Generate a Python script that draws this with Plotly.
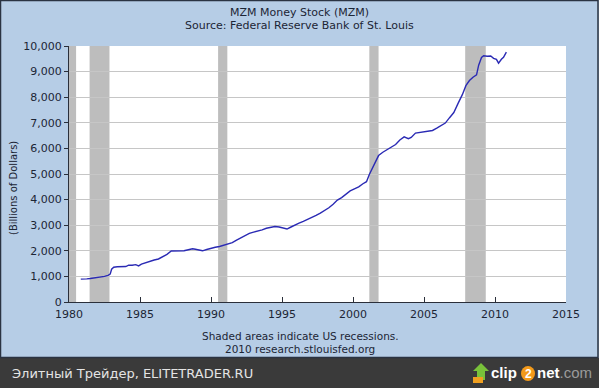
import plotly.graph_objects as go

# ---- data ----
years = [1980.83, 1981.0, 1981.25, 1981.5, 1981.75, 1982.0, 1982.25, 1982.5, 1982.75, 1982.9,
         1983.0, 1983.15, 1983.4, 1983.7, 1984.0, 1984.2, 1984.45, 1984.7, 1984.9, 1985.1,
         1985.4, 1985.7, 1986.0, 1986.3, 1986.6, 1986.9, 1987.2, 1987.5, 1987.8, 1988.1,
         1988.4, 1988.7, 1988.9, 1989.2, 1989.4, 1989.7, 1990.0, 1990.3, 1990.6, 1990.9,
         1991.2, 1991.5, 1991.8, 1992.1, 1992.4, 1992.7, 1993.0, 1993.3, 1993.6, 1993.9,
         1994.2, 1994.5, 1994.8, 1995.1, 1995.35, 1995.6, 1995.9, 1996.2, 1996.5, 1996.8,
         1997.1, 1997.4, 1997.7, 1998.0, 1998.3, 1998.6, 1998.9, 1999.2, 1999.5, 1999.8,
         2000.1, 2000.4, 2000.7, 2000.95, 2001.15, 2001.4, 2001.6, 2001.8, 2002.1, 2002.4,
         2002.7, 2003.0, 2003.3, 2003.6, 2003.9, 2004.1, 2004.4, 2004.7, 2005.0, 2005.3,
         2005.6, 2005.9, 2006.2, 2006.5, 2006.8, 2007.1, 2007.4, 2007.7, 2007.95, 2008.2,
         2008.45, 2008.7, 2008.85, 2009.05, 2009.2, 2009.45, 2009.7, 2009.9, 2010.1, 2010.25,
         2010.45, 2010.6, 2010.8]
mzm = [895, 890, 905, 920, 935, 955, 975, 1000, 1040, 1090,
       1280, 1360, 1375, 1370, 1385, 1440, 1435, 1460, 1410, 1480,
       1540, 1580, 1640, 1680, 1760, 1860, 1990, 2000, 2010, 2000,
       2040, 2080, 2060, 2040, 2000, 2050, 2110, 2140, 2170, 2210,
       2260, 2320, 2420, 2510, 2600, 2680, 2730, 2760, 2820, 2880,
       2920, 2950, 2930, 2900, 2850, 2920, 3010, 3080, 3150, 3220,
       3290, 3380, 3470, 3560, 3680, 3820, 3980, 4080, 4200, 4340,
       4420, 4500, 4620, 4700, 4980, 5250, 5520, 5720, 5850, 5950,
       6050, 6150, 6330, 6450, 6380, 6430, 6600, 6620, 6640, 6660,
       6700, 6790, 6880, 6990, 7200, 7400, 7760, 8100, 8450, 8650,
       8780, 8870, 9250, 9550, 9620, 9600, 9610, 9520, 9480, 9330,
       9480, 9560, 9760]

recession_start = [1980.0, 1981.45, 1990.5, 2001.15, 2007.9]
recession_end = [1980.5, 1982.85, 1991.15, 2001.8, 2009.35]

x_ticks = [1980, 1985, 1990, 1995, 2000, 2005, 2010, 2015]
y_ticks = [0, 1000, 2000, 3000, 4000, 5000, 6000, 7000, 8000, 9000, 10000]

title_1 = "MZM Money Stock (MZM)"
title_2 = "Source: Federal Reserve Bank of St. Louis"
y_title = "(Billions of Dollars)"
note_1 = "Shaded areas indicate US recessions."
note_2 = "2010 research.stlouisfed.org"
footer = "Элитный Трейдер, ELITETRADER.RU"

# ---- layout geometry (pixels) ----
W, H = 599, 388
L, R, T, B = 69, 33, 46, 86
PW, PH = W - L - R, H - T - B


def px(x):
    return (x - L) / PW


def py(y):
    return (H - B - y) / PH


FONT = "DejaVu Sans"
TXT = "#1c2535"
BLUE_BG = "#b6cde6"
LOGO_FONT = "Liberation Sans Narrow, Liberation Sans, Arial"

fig = go.Figure()
fig.add_trace(go.Scatter(x=years, y=mzm, mode="lines",
                         line=dict(color="#2a2ab4", width=1.4),
                         hoverinfo="skip", showlegend=False))

shapes = []
for s, e in zip(recession_start, recession_end):
    shapes.append(dict(type="rect", xref="x", yref="paper", x0=s, x1=e, y0=0, y1=1,
                       fillcolor="#bdbdbd", line=dict(width=0), layer="between"))
# dark footer band
shapes.append(dict(type="rect", xref="paper", yref="paper",
                   x0=px(-2), x1=px(W + 2), y0=py(H + 2), y1=py(358),
                   fillcolor="#3a3a3a", line=dict(width=0), layer="above"))
# panel border
shapes.append(dict(type="rect", xref="paper", yref="paper",
                   x0=px(0.5), x1=px(598), y0=py(357.5), y1=py(0.5),
                   fillcolor="rgba(0,0,0,0)", line=dict(color="#2a3342", width=1.5),
                   layer="above"))
# clip2net logo bits: arrow + orange base + orange circle
shapes.append(dict(type="path", xref="paper", yref="paper",
                   path=f"M {px(481)} {py(363)} L {px(489)} {py(371)} L {px(485)} {py(371)} "
                        f"L {px(485)} {py(380)} L {px(477)} {py(380)} L {px(477)} {py(371)} "
                        f"L {px(473)} {py(371)} Z",
                   fillcolor="#79c23a", line=dict(width=0), layer="above"))
shapes.append(dict(type="rect", xref="paper", yref="paper",
                   x0=px(473), x1=px(483), y0=py(383), y1=py(377),
                   fillcolor="#f0a020", line=dict(width=0), layer="above"))
shapes.append(dict(type="circle", xref="paper", yref="paper",
                   x0=px(521), x1=px(535), y0=py(381), y1=py(366),
                   fillcolor="#f39a1a", line=dict(width=0), layer="above"))

annotations = [
    dict(text=title_1, x=px(299.5), y=py(12), font=dict(size=11, color=TXT, family=FONT)),
    dict(text=title_2, x=px(299.5), y=py(25), font=dict(size=11, color=TXT, family=FONT)),
    dict(text=y_title, x=px(13), y=py(188), textangle=-90,
         font=dict(size=10, color=TXT, family=FONT)),
    dict(text=note_1, x=px(300), y=py(336), font=dict(size=10.5, color=TXT, family=FONT)),
    dict(text=note_2, x=px(300), y=py(349), font=dict(size=10.5, color=TXT, family=FONT)),
    dict(text=footer, x=px(10), y=py(373), xanchor="left",
         font=dict(size=13, color="#e4e4e4", family=FONT)),
    dict(text="<b>clip</b>", x=px(489), y=py(372), xanchor="left",
         font=dict(size=15, color="#ffffff", family=LOGO_FONT)),
    dict(text="<b>2</b>", x=px(528), y=py(373.5),
         font=dict(size=12, color="#ffffff", family="Liberation Sans")),
    dict(text="<b>net</b><span style='color:#9a9a9a'>.com</span>", x=px(535), y=py(372),
         xanchor="left",
         font=dict(size=15, color="#ffffff", family=LOGO_FONT)),
]
for a in annotations:
    a.setdefault("xref", "paper")
    a.setdefault("yref", "paper")
    a.setdefault("xanchor", "center")
    a.setdefault("yanchor", "middle")
    a["showarrow"] = False

fig.update_layout(
    width=W, height=H,
    margin=dict(l=L, r=R, t=T, b=B, pad=0),
    paper_bgcolor=BLUE_BG,
    plot_bgcolor="#ffffff",
    shapes=shapes,
    annotations=annotations,
    showlegend=False,
    xaxis=dict(range=[1980, 2015], tickvals=x_ticks, ticktext=[str(v) for v in x_ticks],
               showgrid=False, zeroline=False, showline=True, linecolor="#2a2f3a",
               linewidth=1, ticks="inside", ticklen=5, tickcolor="#2a2f3a",
               ticklabelstandoff=2,
               tickfont=dict(size=11, color=TXT, family=FONT), automargin=False,
               fixedrange=True),
    yaxis=dict(range=[0, 10000], tickvals=y_ticks, ticktext=[f"{v:,}" for v in y_ticks],
               showgrid=True, gridcolor="#c6c6c6", gridwidth=1, zeroline=False,
               showline=True, linecolor="#2a2f3a", linewidth=1, ticks="outside",
               ticklen=4, tickcolor="#2a2f3a",
               tickfont=dict(size=11, color=TXT, family=FONT), automargin=False,
               fixedrange=True),
)

fig.write_html(
    "out.html",
    config={"displayModeBar": False},
    post_script="document.body.style.margin='0';document.body.style.padding='0';"
                "document.documentElement.style.overflow='hidden';",
)
